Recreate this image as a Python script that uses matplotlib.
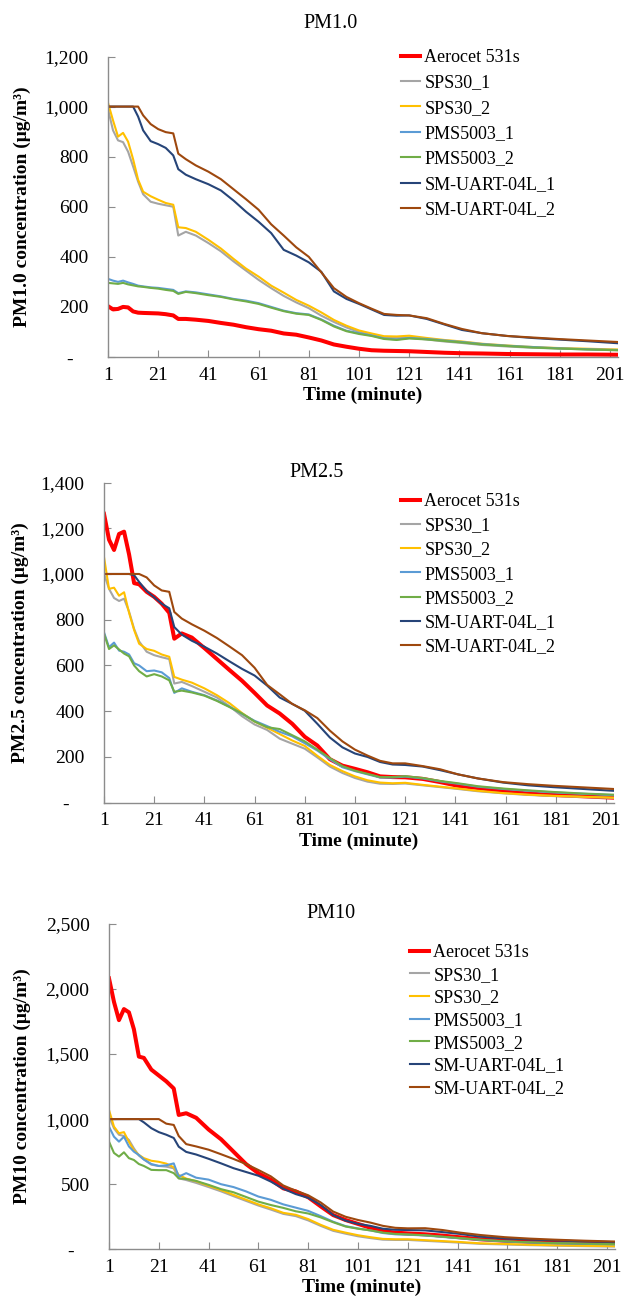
import matplotlib
matplotlib.use("Agg")
import matplotlib.pyplot as plt
from matplotlib.ticker import FuncFormatter

plt.rcParams['font.family'] = ['Liberation Serif', 'DejaVu Serif']

minutes = [1, 3, 5, 7, 9, 11, 13, 15, 18, 21, 24, 27, 29, 32, 36, 41, 46, 51, 56, 61, 66,
           71, 76, 81, 86, 91, 96, 101, 106, 111, 116, 121, 128, 135, 142, 150, 160, 170,
           180, 192, 204]

series_names = ['Aerocet 531s', 'SPS30_1', 'SPS30_2', 'PMS5003_1', 'PMS5003_2',
                'SM-UART-04L_1', 'SM-UART-04L_2']

# ---- PM1.0 ----
pm1_aerocet = [203, 190, 192, 200, 198, 182, 177, 176, 175, 174, 171, 166, 152, 152, 149, 144, 136, 129, 119, 111, 105,
               94, 89, 78, 66, 50, 41, 33, 27, 25, 24, 23, 20, 17, 15, 14, 12, 11, 10, 10, 9]
pm1_sps1 = [990, 905, 865, 858, 820, 761, 700, 650, 620, 612, 606, 600, 485, 500, 485, 455, 422, 382, 345, 308, 275,
            244, 218, 195, 165, 140, 118, 100, 88, 78, 76, 78, 70, 62, 56, 48, 42, 37, 34, 30, 27]
pm1_sps2 = [1015, 945, 880, 895, 860, 790, 708, 660, 642, 628, 615, 608, 518, 515, 500, 468, 433, 392, 353, 321, 285,
            257, 228, 205, 178, 148, 125, 106, 94, 83, 82, 85, 76, 68, 62, 53, 46, 40, 36, 33, 30]
pm1_pms1 = [312, 305, 300, 305, 298, 292, 285, 282, 278, 276, 272, 268, 255, 262, 258, 250, 242, 232, 225, 215, 200,
            185, 175, 170, 150, 125, 105, 95, 86, 74, 70, 76, 72, 66, 60, 52, 45, 40, 35, 31, 28]
pm1_pms2 = [296, 294, 292, 296, 290, 286, 282, 280, 276, 273, 268, 264, 252, 260, 255, 247, 240, 230, 222, 212, 197,
            183, 173, 168, 148, 122, 103, 92, 84, 72, 68, 74, 70, 64, 58, 50, 44, 38, 34, 30, 27]
pm1_sm1 = [1000, 1000, 1000, 1000, 1000, 1000, 960, 905, 862, 850, 835, 805, 750, 728, 710, 690, 665, 625, 580, 540, 495,
           428, 405, 378, 340, 262, 232, 212, 190, 168, 165, 166, 152, 130, 108, 95, 84, 76, 70, 63, 55]
pm1_sm2 = [1000, 1000, 1000, 1000, 1000, 1000, 1000, 965, 930, 910, 898, 893, 812, 790, 765, 740, 710, 670, 630, 588, 530,
           485, 438, 400, 338, 275, 240, 215, 193, 172, 168, 166, 155, 132, 112, 95, 84, 78, 72, 66, 60]

# ---- PM2.5 ----
pm25_aerocet = [1263, 1150, 1105, 1175, 1185, 1085, 960, 955, 922, 900, 870, 830, 717, 740, 722, 676, 628, 580, 533, 480, 425,
                390, 345, 288, 250, 190, 162, 148, 133, 115, 112, 111, 104, 90, 74, 64, 50, 40, 34, 28, 22]
pm25_sps1 = [1001, 935, 895, 882, 892, 835, 760, 705, 660, 645, 636, 628, 521, 528, 510, 485, 460, 422, 378, 342, 318,
             280, 258, 236, 198, 158, 130, 108, 92, 83, 82, 84, 76, 68, 60, 50, 41, 34, 29, 25, 21]
pm25_sps2 = [1074, 935, 940, 905, 920, 830, 755, 695, 672, 664, 648, 638, 550, 538, 525, 500, 470, 435, 392, 355, 328,
             300, 272, 248, 205, 165, 138, 115, 98, 88, 85, 87, 78, 70, 62, 52, 42, 35, 30, 26, 22]
pm25_pms1 = [745, 680, 700, 665, 660, 648, 610, 600, 575, 578, 570, 545, 480, 500, 485, 470, 447, 420, 388, 358, 335,
             310, 290, 260, 228, 190, 155, 138, 124, 110, 110, 114, 106, 93, 83, 70, 60, 52, 45, 39, 33]
pm25_pms2 = [739, 672, 688, 670, 652, 640, 600, 575, 552, 562, 552, 535, 485, 490, 482, 468, 445, 418, 390, 355, 330,
             322, 295, 268, 232, 195, 160, 140, 126, 112, 112, 116, 108, 95, 85, 72, 62, 54, 47, 40, 35]
pm25_sm1 = [1000, 1000, 1000, 1000, 1000, 1000, 995, 965, 925, 898, 870, 850, 768, 735, 708, 682, 652, 618, 585, 556, 512,
            460, 432, 402, 345, 285, 242, 215, 200, 178, 167, 165, 158, 142, 124, 106, 88, 76, 68, 60, 52]
pm25_sm2 = [1000, 1000, 1000, 1000, 1000, 1000, 1000, 1000, 985, 950, 928, 922, 834, 805, 780, 752, 720, 683, 645, 590, 515,
            474, 432, 404, 370, 315, 268, 232, 206, 183, 172, 172, 160, 146, 124, 106, 90, 81, 74, 67, 60]

# ---- PM10 ----
pm10_aerocet = [2081, 1900, 1760, 1845, 1820, 1690, 1480, 1470, 1380, 1335, 1290, 1235, 1032, 1045, 1010, 920, 845, 750, 655, 584, 535,
                468, 445, 400, 330, 263, 225, 195, 165, 140, 128, 122, 115, 105, 92, 77, 66, 58, 52, 48, 45]
pm10_sps1 = [1019, 929, 880, 870, 840, 775, 720, 690, 650, 640, 635, 622, 545, 532, 510, 478, 445, 408, 372, 336, 305,
             272, 255, 222, 180, 142, 120, 100, 86, 74, 72, 72, 65, 58, 51, 42, 37, 32, 28, 24, 21]
pm10_sps2 = [1070, 942, 891, 900, 825, 760, 725, 700, 680, 672, 658, 630, 571, 543, 523, 488, 455, 418, 381, 345, 315,
             280, 265, 232, 188, 150, 128, 108, 93, 80, 77, 77, 70, 63, 56, 46, 41, 35, 31, 27, 24]
pm10_pms1 = [942, 865, 827, 865, 790, 750, 724, 690, 655, 640, 645, 660, 558, 585, 550, 535, 500, 478, 445, 405, 380,
             345, 320, 295, 255, 212, 178, 160, 145, 125, 115, 112, 106, 95, 84, 72, 60, 52, 46, 42, 38]
pm10_pms2 = [827, 740, 712, 745, 700, 686, 655, 640, 610, 608, 608, 585, 545, 540, 525, 495, 462, 438, 402, 366, 340,
             318, 292, 275, 245, 208, 175, 158, 145, 128, 118, 114, 108, 97, 86, 74, 62, 54, 48, 44, 40]
pm10_sm1 = [1000, 1000, 1000, 1000, 1000, 1000, 1000, 975, 930, 900, 880, 855, 788, 748, 728, 695, 660, 623, 594, 565, 520,
            465, 424, 395, 340, 263, 220, 195, 180, 158, 150, 148, 145, 132, 118, 97, 83, 75, 68, 61, 55]
pm10_sm2 = [1000, 1000, 1000, 1000, 1000, 1000, 1000, 1000, 1000, 1000, 965, 955, 870, 808, 790, 765, 730, 694, 655, 609, 560,
            490, 450, 415, 360, 290, 250, 225, 205, 180, 165, 161, 162, 148, 128, 110, 93, 82, 74, 66, 60]

colors = ['#FF0000', '#A5A5A5', '#FFC000', '#5B9BD5', '#70AD47', '#264478', '#9E480E']
widths = [2.9, 1.5, 1.5, 1.5, 1.5, 1.5, 1.5]

fig = plt.figure(figsize=(6.24, 13.10), dpi=100)


def fmt(v, pos):
    if v == 0:
        return '-   '
    return '{:,.0f}'.format(v)


def panel(rect, data, ymax, ystep, title, title_xy, ylabel, ylabel_x, leg_xy, leg_space):
    ax = fig.add_axes(rect)
    for vals, name, c, lw in zip(data, series_names, colors, widths):
        ax.plot(minutes, vals, color=c, lw=lw, label=name, solid_joinstyle='round')
    ax.set_xlim(1, 204)
    ax.set_ylim(0, ymax)
    ax.set_xticks(list(range(1, 202, 20)))
    ax.set_yticks(list(range(0, ymax + 1, ystep)))
    ax.yaxis.set_major_formatter(FuncFormatter(fmt))
    for s in ['top', 'right']:
        ax.spines[s].set_visible(False)
    for s in ['left', 'bottom']:
        ax.spines[s].set_color('#8c8c8c')
        ax.spines[s].set_linewidth(1.0)
    ax.tick_params(axis='both', direction='in', length=5, color='#8c8c8c', labelsize=14)
    ax.tick_params(axis='y', pad=14)
    ax.tick_params(axis='x', pad=7)
    ax.set_xlabel('Time (minute)', fontsize=14, fontweight='bold', labelpad=2)
    fig.text(title_xy[0], title_xy[1], title, fontsize=14.5, ha='center', va='center')
    fig.text(ylabel_x, rect[1] + rect[3] / 2, ylabel, fontsize=14, fontweight='bold',
             rotation=90, ha='center', va='center')
    ax.legend(loc='upper left', bbox_to_anchor=leg_xy, bbox_transform=fig.transFigure,
              frameon=False, fontsize=13, handlelength=1.05, handletextpad=0.25,
              labelspacing=leg_space, borderpad=0, borderaxespad=0)
    return ax


W, H = 624.0, 1310.0
panel([108 / W, 1 - 357 / H, 509.5 / W, 300.5 / H],
      [pm1_aerocet, pm1_sps1, pm1_sps2, pm1_pms1, pm1_pms2, pm1_sm1, pm1_sm2],
      1200, 200, 'PM1.0', (331 / W, 1 - 24 / H),
      'PM1.0 concentration (μg/m³)', 22 / W, (401 / W, 1 - 49 / H), 0.465)
panel([104 / W, 1 - 802.7 / H, 509.5 / W, 320.2 / H],
      [pm25_aerocet, pm25_sps1, pm25_sps2, pm25_pms1, pm25_pms2, pm25_sm1, pm25_sm2],
      1400, 200, 'PM2.5', (317 / W, 1 - 473 / H),
      'PM2.5 concentration (μg/m³)', 20 / W, (401 / W, 1 - 493 / H), 0.40)
panel([109 / W, 1 - 1249.3 / H, 505.5 / W, 325.5 / H],
      [pm10_aerocet, pm10_sps1, pm10_sps2, pm10_pms1, pm10_pms2, pm10_sm1, pm10_sm2],
      2500, 500, 'PM10', (331 / W, 1 - 914 / H),
      'PM10 concentration (μg/m³)', 22 / W, (410 / W, 1 - 944 / H), 0.315)

fig.savefig('out.png', dpi=100)
